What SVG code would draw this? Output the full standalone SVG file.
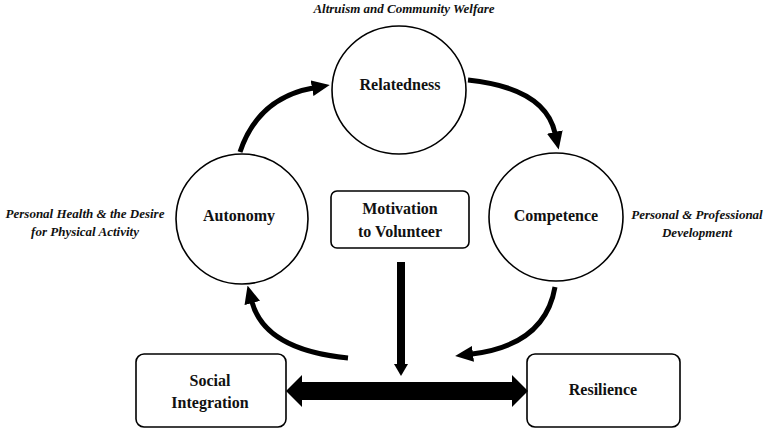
<svg xmlns="http://www.w3.org/2000/svg" width="767" height="432" viewBox="0 0 767 432">
<style>
.bg{fill:#fff}
.node{fill:#fff;stroke:#000;stroke-width:1.6}
.lbl{font-family:"Liberation Serif","Times New Roman",serif;font-weight:bold;font-size:16px;fill:#111;text-anchor:middle}
.note{font-family:"Liberation Serif","Times New Roman",serif;font-style:italic;font-weight:bold;font-size:13px;fill:#111;text-anchor:middle}
.curve{fill:none;stroke:#000;stroke-width:5}
</style>
<defs>
<marker id="head" viewBox="0 0 18 16" refX="1" refY="8" markerWidth="18" markerHeight="16" markerUnits="userSpaceOnUse" orient="auto">
<path d="M0,0 L18,8 L0,16 z" fill="#000"/>
</marker>
</defs>
<rect class="bg" x="0" y="0" width="767" height="432"/>

<text class="note" x="404" y="13">Altruism and Community Welfare</text>
<text class="note" x="85" y="218">Personal Health &amp; the Desire</text>
<text class="note" x="85" y="236">for Physical Activity</text>
<text class="note" x="697" y="219">Personal &amp; Professional</text>
<text class="note" x="697" y="237">Development</text>

<g id="relatedness">
<ellipse class="node" cx="399" cy="90" rx="67" ry="64"/>
<text class="lbl" x="400" y="90">Relatedness</text>
</g>
<g id="autonomy">
<ellipse class="node" cx="242" cy="219" rx="66" ry="65"/>
<text class="lbl" x="239" y="221">Autonomy</text>
</g>
<g id="competence">
<ellipse class="node" cx="556" cy="217" rx="67" ry="64"/>
<text class="lbl" x="556" y="221">Competence</text>
</g>
<g id="motivation">
<rect class="node" x="331" y="191" width="138" height="57" rx="6"/>
<text class="lbl" x="400" y="214">Motivation</text>
<text class="lbl" x="400" y="237">to Volunteer</text>
</g>
<g id="social-integration">
<rect class="node" x="136" y="354" width="150" height="73" rx="8"/>
<text class="lbl" x="210" y="386">Social</text>
<text class="lbl" x="210" y="408">Integration</text>
</g>
<g id="resilience">
<rect class="node" x="527" y="354" width="153" height="73" rx="8"/>
<text class="lbl" x="603" y="395">Resilience</text>
</g>

<g id="connectors">
<path class="curve" d="M240,152 Q258,98 313,88" marker-end="url(#head)"/>
<path class="curve" d="M468,80 Q545,88 555,133" marker-end="url(#head)"/>
<path class="curve" d="M555,287 Q545,345 472,354" marker-end="url(#head)"/>
<path class="curve" d="M348,358 Q265,350 252,302" marker-end="url(#head)"/>
<line x1="401" y1="262" x2="401" y2="366" stroke="#000" stroke-width="8"/>
<polygon points="394,364 408,364 401,376" fill="#000"/>
<polygon points="286,391 302,375 302,382 512,382 512,375 528,391 512,407 512,400 302,400 302,407" fill="#000"/>
</g>
</svg>
